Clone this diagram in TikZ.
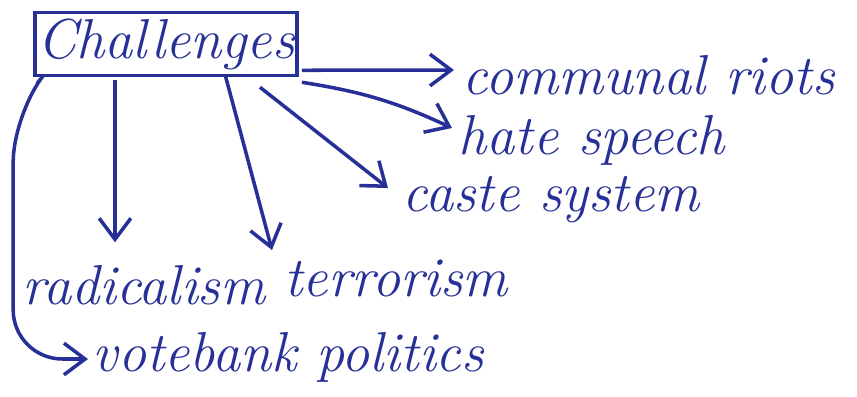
\documentclass[tikz,border=0pt]{standalone}
\usepackage{tikz}
\usetikzlibrary{calc,positioning,arrows.meta}
\definecolor{ink}{RGB}{38,48,150}
\newcommand{\handsize}{\fontsize{16}{19}\selectfont\itshape}
\begin{document}
\begin{tikzpicture}[x=0.01cm,y=-0.01cm,
    ink line/.style={draw=ink,line width=1pt},
    topic/.style={anchor=west,text=ink,font=\handsize,inner sep=0pt},
    >={Straight Barb[length=6pt,width=9pt]}]
    % page frame
    \useasboundingbox (0,0) rectangle (857,397);
    % Main box
    \node[ink line,minimum width=2.62cm,minimum height=0.63cm,text=ink,font=\handsize,inner sep=0pt] (chal) at (166,44) {Challenges};
    % Topics
    \node[topic] (riots) at (462,75) {communal riots};
    \node[topic] (hate) at (458,140) {hate speech};
    \node[topic] (caste) at (402,200) {caste system};
    \node[topic] (radical) at (22,285) {radicalism};
    \node[topic] (terror) at (284,278) {terrorism};
    \node[topic] (vote) at (92,357) {votebank politics};
    % Arrows out of the box
    \draw[ink line,->] ($(chal.south east)+(3,-7)$) -- ($(riots.west)+(-8,-5)$);
    \draw[ink line,->] ($(chal.south east)+(3,5)$) to[bend left=8] ($(hate.west)+(-6,-12)$);
    \draw[ink line,->] ($(chal.south)+(94,10)$) -- ($(caste.west)+(-14,-12)$);
    \draw[ink line,->] ($(chal.south)+(-51,3)$) -- ($(chal.south)+(-51,165)$);
    \draw[ink line,->] ($(chal.south)+(59,-3)$) -- ($(terror.west)+(-12,-28)$);
    \draw[ink line,->,rounded corners=14] ($(chal.south west)+(4,6)$) -- ++(-24,30) |- ($(vote.west)+(-4,2)$);
\end{tikzpicture}
\end{document}
